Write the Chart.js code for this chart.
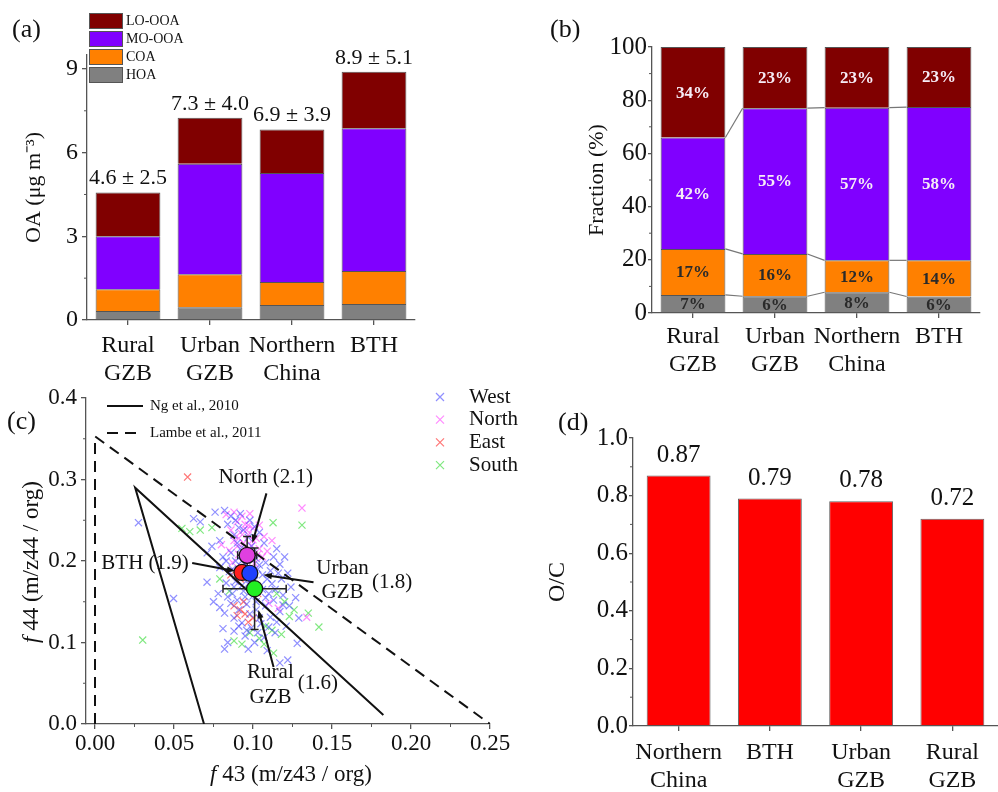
<!DOCTYPE html>
<html>
<head>
<meta charset="utf-8">
<script src="https://cdn.jsdelivr.net/npm/chart.js@4.4.1/dist/chart.umd.min.js"></script>
<style>
  html, body { margin: 0; padding: 0; background: #fff; }
  #wrap { position: relative; width: 998px; height: 792px; overflow: hidden; }
  canvas { position: absolute; }
</style>
</head>
<body>
<div id="wrap">
  <canvas id="ca" width="500" height="395" style="left:0;top:0"></canvas>
  <canvas id="cb" width="498" height="395" style="left:500px;top:0"></canvas>
  <canvas id="cc" width="520" height="412" style="left:0;top:380px"></canvas>
  <canvas id="cd" width="478" height="392" style="left:520px;top:400px"></canvas>
</div>
<script>
const SERIF = "'Liberation Serif','Times New Roman',serif";
const INK = '#111';
const AXIS = '#555';

// ---- (a) OA concentration
const sitesA = [['Rural', 'GZB'], ['Urban', 'GZB'], ['Northern', 'China'], ['BTH']];
const hoaConc = [0.32, 0.46, 0.54, 0.57];
const coaConc = [0.78, 1.18, 0.82, 1.19];
const mooConc = [1.90, 3.96, 3.91, 5.11];
const looConc = [1.57, 1.65, 1.56, 2.03];
const totalMean = [4.6, 7.3, 6.9, 8.9];
const totalSd = [2.5, 4.0, 3.9, 5.1];
const concTicks = [0, 3, 6, 9];
const concMinor = [1.5, 4.5, 7.5];

// ---- (b) fractions
const hoaFrac = [6.8, 6.3, 7.8, 6.2];
const coaFrac = [17.3, 15.9, 12.0, 13.6];
const mooFrac = [41.9, 54.8, 57.4, 57.6];
const looFrac = [34.0, 23.0, 22.8, 22.6];
const fracTicks = [0, 20, 40, 60, 80, 100];
const fracMinor = [10, 30, 50, 70, 90];

// ---- (c) triangle plot
const westPts = [[0.0275,0.247],[0.0497,0.154],[0.0709,0.174],[0.0624,0.252],[0.0666,0.248],[0.076,0.26],[0.082,0.262],
  [0.086,0.255],[0.089,0.25],[0.084,0.245],[0.091,0.241],[0.094,0.238],[0.088,0.232],[0.097,0.229],[0.101,0.242],
  [0.104,0.235],[0.107,0.222],[0.099,0.218],[0.092,0.215],[0.086,0.21],[0.081,0.205],[0.089,0.2],[0.095,0.196],
  [0.102,0.203],[0.108,0.198],[0.113,0.205],[0.117,0.196],[0.111,0.188],[0.106,0.183],[0.099,0.178],[0.091,0.18],
  [0.085,0.187],[0.079,0.192],[0.083,0.173],[0.088,0.168],[0.094,0.163],[0.1,0.157],[0.106,0.165],[0.112,0.172],
  [0.118,0.178],[0.122,0.185],[0.124,0.168],[0.119,0.158],[0.113,0.152],[0.108,0.145],[0.102,0.14],[0.096,0.147],
  [0.09,0.152],[0.084,0.156],[0.079,0.143],[0.082,0.136],[0.088,0.13],[0.093,0.124],[0.099,0.118],[0.105,0.123],
  [0.111,0.131],[0.117,0.138],[0.123,0.145],[0.127,0.155],[0.129,0.13],[0.121,0.12],[0.114,0.112],[0.107,0.106],
  [0.101,0.1],[0.095,0.108],[0.088,0.114],[0.084,0.1],[0.082,0.092],[0.081,0.117],[0.128,0.099],[0.117,0.075],
  [0.122,0.0785],[0.109,0.09],[0.097,0.092],[0.092,0.258],[0.098,0.25],[0.079,0.225],[0.074,0.218],[0.071,0.21],
  [0.115,0.215],[0.12,0.205],[0.075,0.15],[0.078,0.16],[0.103,0.19],[0.096,0.205],[0.09,0.222],[0.087,0.19],
  [0.11,0.16],[0.104,0.13],[0.098,0.135],[0.091,0.14],[0.093,0.17],[0.097,0.172],[0.101,0.176],[0.105,0.17],
  [0.109,0.178],[0.104,0.195],[0.1,0.21],[0.093,0.2],[0.089,0.175],[0.095,0.156],[0.102,0.15],[0.108,0.155],
  [0.114,0.165],[0.116,0.185],[0.1,0.188],[0.094,0.185],[0.087,0.16],[0.091,0.12],[0.096,0.115],[0.103,0.112],
  [0.11,0.119],[0.115,0.125],[0.119,0.146],[0.086,0.148],[0.083,0.2]];
const northPts = [[0.131,0.265],[0.134,0.131],[0.083,0.257],[0.088,0.26],[0.093,0.255],[0.098,0.258],[0.09,0.248],
  [0.095,0.245],[0.1,0.24],[0.104,0.244],[0.086,0.238],[0.092,0.235],[0.097,0.232],[0.102,0.228],[0.107,0.23],
  [0.088,0.225],[0.094,0.222],[0.099,0.219],[0.104,0.215],[0.109,0.212],[0.085,0.213],[0.091,0.208],[0.096,0.2],
  [0.101,0.197],[0.093,0.192],[0.087,0.198],[0.098,0.188],[0.106,0.205],[0.08,0.22],[0.112,0.225],[0.11,0.148],
  [0.116,0.142],[0.096,0.238],[0.091,0.228],[0.1,0.226],[0.095,0.214],[0.09,0.218],[0.103,0.208],[0.097,0.244]];
const eastPts = [[0.0586,0.303],[0.092,0.14],[0.095,0.135],[0.088,0.145],[0.1,0.13],[0.094,0.15],[0.097,0.125],
  [0.09,0.133],[0.103,0.16],[0.092,0.178],[0.086,0.183]];
const southPts = [[0.0302,0.103],[0.131,0.244],[0.1127,0.247],[0.1417,0.119],[0.135,0.136],[0.113,0.087],[0.055,0.24],
  [0.0666,0.238],[0.074,0.241],[0.06,0.236],[0.108,0.12],[0.112,0.115],[0.104,0.105],[0.098,0.112],[0.118,0.11],
  [0.123,0.132],[0.126,0.14],[0.088,0.102],[0.093,0.098],[0.115,0.16],[0.12,0.15],[0.079,0.178],[0.085,0.163],[0.107,0.098]];
const ngX = [0.069, 0.0254, 0.1825];
const ngY = [0, 0.29, 0.011];
const lambeX = [0, 0, 0.25];
const lambeY = [0, 0.353, 0];
const meanNames = ['North', 'BTH', 'Urban GZB', 'Rural GZB'];
const meanX = [0.0963, 0.093, 0.098, 0.101];
const meanY = [0.207, 0.186, 0.185, 0.166];
const meanErrX = [0.006, 0, 0, 0.02];
const meanErrY = [0.023, 0, 0, 0.05];
const f43Ticks = [0, 0.05, 0.10, 0.15, 0.20, 0.25];
const f44Ticks = [0, 0.1, 0.2, 0.3, 0.4];

// ---- (d) O/C
const sitesD = [['Northern', 'China'], ['BTH'], ['Urban', 'GZB'], ['Rural', 'GZB']];
const ocValues = [0.87, 0.79, 0.78, 0.72];
const ocTicks = [0, 0.2, 0.4, 0.6, 0.8, 1.0];
const ocMinor = [0.1, 0.3, 0.5, 0.7, 0.9];

Chart.defaults.font.family = SERIF;
Chart.defaults.color = INK;

function font(size, weight) { return { family: SERIF, size: size, weight: weight || 'normal' }; }

function yAxis(o) {
  return {
    min: o.min, max: o.max, stacked: !!o.stacked,
    afterFit: s => { s.width = o.width; },
    afterBuildTicks: s => { s.ticks = o.ticks.map(v => ({ value: v })); },
    border: { display: true, color: AXIS, width: 1.3 },
    grid: { display: true, drawOnChartArea: false, drawTicks: true, tickLength: o.tl || 5, color: AXIS, lineWidth: 1.3 },
    ticks: { font: font(o.fs || 24), color: INK, padding: o.pad == null ? 4 : o.pad, callback: o.fmt || (v => v) },
    title: o.title ? { display: true, text: o.title, font: font(o.tfs || 22), color: INK, padding: { top: o.titlePad, bottom: 0 } } : { display: false }
  };
}

function catAxis(o) {
  return {
    stacked: !!o.stacked,
    afterFit: s => { s.height = o.height; },
    border: { display: true, color: AXIS, width: 1.3 },
    grid: { display: true, offset: false, drawOnChartArea: false, drawTicks: true, tickLength: 5, color: AXIS, lineWidth: 1.3 },
    ticks: { font: { family: SERIF, size: 24, lineHeight: 1.17 }, color: INK, padding: o.pad, maxRotation: 0, autoSkip: false }
  };
}

function minorTicks(xVals, yVals) {
  return {
    id: 'minorTicks',
    afterDraw(chart) {
      const { ctx, chartArea: a, scales: { x, y } } = chart;
      ctx.save();
      ctx.strokeStyle = AXIS; ctx.lineWidth = 1;
      (yVals || []).forEach(v => {
        const p = y.getPixelForValue(v);
        ctx.beginPath(); ctx.moveTo(a.left - 3, p); ctx.lineTo(a.left, p); ctx.stroke();
      });
      (xVals || []).forEach(v => {
        const p = x.getPixelForValue(v);
        ctx.beginPath(); ctx.moveTo(p, a.bottom); ctx.lineTo(p, a.bottom + 3); ctx.stroke();
      });
      ctx.restore();
    }
  };
}

function panelTag(text, x, y) {
  return {
    id: 'panelTag',
    afterDraw(chart) {
      const ctx = chart.ctx;
      ctx.save();
      ctx.font = '26px ' + SERIF; ctx.fillStyle = INK;
      ctx.textAlign = 'left'; ctx.textBaseline = 'middle';
      ctx.fillText(text, x, y);
      ctx.restore();
    }
  };
}

const compColors = ['#808080', '#ff8000', '#8000ff', '#800000'];
const compNames = ['HOA', 'COA', 'MO-OOA', 'LO-OOA'];

// ================= (a)
new Chart(document.getElementById('ca'), {
  type: 'bar',
  data: {
    labels: sitesA,
    datasets: [hoaConc, coaConc, mooConc, looConc].map((d, i) => ({
      label: compNames[i], data: d, backgroundColor: compColors[i],
      borderColor: '#555', borderWidth: 1, barPercentage: 0.79, categoryPercentage: 1
    }))
  },
  options: {
    responsive: false, animation: false, devicePixelRatio: 1,
    layout: { padding: { left: 0, top: 55, right: 85, bottom: 0 } },
    plugins: { legend: { display: false }, tooltip: { enabled: false } },
    scales: {
      x: catAxis({ stacked: true, height: 75, pad: 7 }),
      y: yAxis({ min: 0, max: 9.5, stacked: true, width: 87, ticks: concTicks, title: 'OA (μg m⁻³)', titlePad: 21, pad: 4 })
    }
  },
  plugins: [minorTicks(null, concMinor), panelTag('(a)', 12, 30), {
    id: 'aDecor',
    afterDraw(chart) {
      const ctx = chart.ctx;
      ctx.save();
      // totals above bars
      const top = chart.getDatasetMeta(3);
      ctx.font = '22px ' + SERIF; ctx.fillStyle = INK;
      ctx.textAlign = 'center'; ctx.textBaseline = 'bottom';
      top.data.forEach((el, i) => {
        ctx.fillText(totalMean[i].toFixed(1) + ' ± ' + totalSd[i].toFixed(1), el.x, el.y - 3);
      });
      // legend, top to bottom
      ctx.font = '14px ' + SERIF; ctx.textAlign = 'left'; ctx.textBaseline = 'middle';
      for (let k = 0; k < 4; k++) {
        const di = 3 - k;
        const yy = 13 + k * 18;
        ctx.fillStyle = compColors[di];
        ctx.fillRect(89, yy, 34, 16);
        ctx.strokeStyle = '#555'; ctx.lineWidth = 1;
        ctx.strokeRect(89.5, yy + 0.5, 33, 15);
        ctx.fillStyle = INK;
        ctx.fillText(compNames[di], 126, yy + 8);
      }
      ctx.restore();
    }
  }]
});

// ================= (b)
new Chart(document.getElementById('cb'), {
  type: 'bar',
  data: {
    labels: sitesA,
    datasets: [hoaFrac, coaFrac, mooFrac, looFrac].map((d, i) => ({
      label: compNames[i], data: d, backgroundColor: compColors[i],
      borderColor: '#555', borderWidth: 1, barPercentage: 0.79, categoryPercentage: 1
    }))
  },
  options: {
    responsive: false, animation: false, devicePixelRatio: 1,
    layout: { padding: { left: 0, top: 47, right: 18, bottom: 0 } },
    plugins: { legend: { display: false }, tooltip: { enabled: false } },
    scales: {
      x: catAxis({ stacked: true, height: 82, pad: 5 }),
      y: yAxis({ min: 0, max: 100, stacked: true, width: 152, ticks: fracTicks, title: 'Fraction (%)', titlePad: 84, pad: 1, tl: 4, fs: 25 })
    }
  },
  plugins: [minorTicks(null, fracMinor), panelTag('(b)', 50, 30), {
    id: 'bDecor',
    afterDatasetsDraw(chart) {
      const ctx = chart.ctx;
      ctx.save();
      // connectors between stacked boundaries
      ctx.strokeStyle = '#777'; ctx.lineWidth = 1.2;
      for (let d = 0; d < 3; d++) {
        const els = chart.getDatasetMeta(d).data;
        for (let i = 0; i < els.length - 1; i++) {
          const a = els[i], b = els[i + 1];
          ctx.beginPath();
          ctx.moveTo(a.x + a.width / 2, a.y);
          ctx.lineTo(b.x - b.width / 2, b.y);
          ctx.stroke();
        }
      }
      // percentage labels
      ctx.font = 'bold 17px ' + SERIF; ctx.textAlign = 'center'; ctx.textBaseline = 'middle';
      chart.data.datasets.forEach((ds, d) => {
        chart.getDatasetMeta(d).data.forEach((el, i) => {
          ctx.fillStyle = d >= 2 ? '#f6ecf6' : '#2a2a2a';
          ctx.fillText(Math.round(ds.data[i]) + '%', el.x, (el.y + el.base) / 2 + 1);
        });
      });
      ctx.restore();
    }
  }]
});

// ================= (c)
const toXY = pts => pts.map(p => ({ x: p[0], y: p[1] }));
const cloud = (label, pts, col) => ({
  label, data: toXY(pts), pointStyle: 'crossRot', pointRadius: 5, pointBorderWidth: 1.2,
  borderColor: col, backgroundColor: col, showLine: false
});
const cloudCols = ['rgba(70,70,255,0.6)', 'rgba(255,60,255,0.6)', 'rgba(255,60,60,0.7)', 'rgba(60,220,60,0.65)'];
const cloudNames = ['West', 'North', 'East', 'South'];
const meanCols = ['#e040e0', '#ff2020', '#2040ff', '#22ee22'];

const notes = [
  { lines: [['North (2.1)', 0.108, 0.302]], from: [0.1085, 0.283], to: [0.0996, 0.222] },
  { lines: [['BTH (1.9)', 0.0317, 0.1975]], from: [0.0615, 0.1975], to: [0.0888, 0.1877] },
  { lines: [['Urban', 0.1567, 0.191], ['GZB', 0.1567, 0.161], ['(1.8)', 0.188, 0.174]], from: [0.1383, 0.174], to: [0.1066, 0.183] },
  { lines: [['Rural', 0.111, 0.0626], ['GZB', 0.111, 0.033], ['(1.6)', 0.141, 0.05]], from: [0.113, 0.07], to: [0.1034, 0.14] }
];

function drawMixedTitle(ctx, cx, cy, rot, parts) {
  ctx.save();
  ctx.translate(cx, cy);
  ctx.rotate(rot);
  ctx.textBaseline = 'middle'; ctx.textAlign = 'left'; ctx.fillStyle = INK;
  let w = 0;
  parts.forEach(p => { ctx.font = p[1]; w += ctx.measureText(p[0]).width; });
  let x = -w / 2;
  parts.forEach(p => { ctx.font = p[1]; ctx.fillText(p[0], x, 0); x += ctx.measureText(p[0]).width; });
  ctx.restore();
}

new Chart(document.getElementById('cc'), {
  type: 'scatter',
  data: {
    datasets: [
      {
        label: 'means', data: meanX.map((x, i) => ({ x, y: meanY[i] })),
        pointStyle: 'circle', pointRadius: 8, pointBorderWidth: 1.2,
        backgroundColor: meanCols, borderColor: '#111', showLine: false
      },
      {
        label: 'Ng et al., 2010', data: ngX.map((x, i) => ({ x, y: ngY[i] })),
        showLine: true, borderColor: '#111', borderWidth: 2, pointRadius: 0, fill: false
      },
      {
        label: 'Lambe et al., 2011', data: lambeX.map((x, i) => ({ x, y: lambeY[i] })),
        showLine: true, borderColor: '#111', borderWidth: 2, borderDash: [11, 7], pointRadius: 0, fill: false
      },
      cloud('West', westPts, cloudCols[0]),
      cloud('North', northPts, cloudCols[1]),
      cloud('East', eastPts, cloudCols[2]),
      cloud('South', southPts, cloudCols[3])
    ]
  },
  options: {
    responsive: false, animation: false, devicePixelRatio: 1,
    layout: { padding: { left: 0, top: 18, right: 30, bottom: 0 } },
    plugins: { legend: { display: false }, tooltip: { enabled: false } },
    scales: {
      x: {
        type: 'linear', min: -0.0057, max: 0.25,
        afterFit: s => { s.height = 412 - 344; },
        afterBuildTicks: s => { s.ticks = f43Ticks.map(v => ({ value: v })); },
        border: { display: true, color: AXIS, width: 1.3 },
        grid: { display: true, drawOnChartArea: false, drawTicks: true, tickLength: 5, color: AXIS, lineWidth: 1.3 },
        ticks: { font: font(23), color: INK, padding: 1, maxRotation: 0, callback: v => v.toFixed(2) }
      },
      y: yAxis({ min: 0, max: 0.4, width: 86, ticks: f44Ticks, pad: 4, fs: 23, fmt: v => v.toFixed(1) })
    }
  },
  plugins: [minorTicks([0.025, 0.075, 0.125, 0.175, 0.225], [0.05, 0.15, 0.25, 0.35]), panelTag('(c)', 7, 42), {
    id: 'cDecor',
    beforeDatasetDraw(chart, args) {
      if (args.index !== 0) return;
      const { ctx, scales: { x, y } } = chart;
      ctx.save();
      ctx.strokeStyle = '#222'; ctx.lineWidth = 1.5;
      meanX.forEach((mx, i) => {
        const px = x.getPixelForValue(mx), py = y.getPixelForValue(meanY[i]);
        if (meanErrX[i]) {
          const l = x.getPixelForValue(mx - meanErrX[i]), r = x.getPixelForValue(mx + meanErrX[i]);
          ctx.beginPath(); ctx.moveTo(l, py); ctx.lineTo(r, py);
          ctx.moveTo(l, py - 4); ctx.lineTo(l, py + 4); ctx.moveTo(r, py - 4); ctx.lineTo(r, py + 4); ctx.stroke();
        }
        if (meanErrY[i]) {
          const t = y.getPixelForValue(meanY[i] + meanErrY[i]), b = y.getPixelForValue(meanY[i] - meanErrY[i]);
          ctx.beginPath(); ctx.moveTo(px, t); ctx.lineTo(px, b);
          ctx.moveTo(px - 4, t); ctx.lineTo(px + 4, t); ctx.moveTo(px - 4, b); ctx.lineTo(px + 4, b); ctx.stroke();
        }
      });
      ctx.restore();
    },
    afterDraw(chart) {
      const { ctx, scales: { x, y } } = chart;
      ctx.save();
      // annotations with arrows
      ctx.fillStyle = INK; ctx.strokeStyle = INK; ctx.lineWidth = 2;
      ctx.font = '21px ' + SERIF; ctx.textAlign = 'center'; ctx.textBaseline = 'middle';
      notes.forEach(n => {
        n.lines.forEach(l => ctx.fillText(l[0], x.getPixelForValue(l[1]), y.getPixelForValue(l[2])));
        const x0 = x.getPixelForValue(n.from[0]), y0 = y.getPixelForValue(n.from[1]);
        const x1 = x.getPixelForValue(n.to[0]), y1 = y.getPixelForValue(n.to[1]);
        const ang = Math.atan2(y1 - y0, x1 - x0);
        ctx.beginPath(); ctx.moveTo(x0, y0); ctx.lineTo(x1 - 6 * Math.cos(ang), y1 - 6 * Math.sin(ang)); ctx.stroke();
        ctx.beginPath();
        ctx.moveTo(x1, y1);
        ctx.lineTo(x1 - 9 * Math.cos(ang - 0.35), y1 - 9 * Math.sin(ang - 0.35));
        ctx.lineTo(x1 - 9 * Math.cos(ang + 0.35), y1 - 9 * Math.sin(ang + 0.35));
        ctx.closePath(); ctx.fill();
      });
      // line legend (top left)
      ctx.font = '15px ' + SERIF; ctx.textAlign = 'left';
      ctx.beginPath(); ctx.moveTo(107, 26); ctx.lineTo(143, 26); ctx.stroke();
      ctx.fillText('Ng et al., 2010', 150, 26);
      ctx.setLineDash([11, 7]);
      ctx.beginPath(); ctx.moveTo(107, 53); ctx.lineTo(143, 53); ctx.stroke();
      ctx.setLineDash([]);
      ctx.fillText('Lambe et al., 2011', 150, 53);
      // region legend (top right)
      ctx.font = '21px ' + SERIF;
      cloudNames.forEach((nm, k) => {
        const yy = 17 + k * 22.7;
        ctx.strokeStyle = cloudCols[k]; ctx.lineWidth = 1.2;
        ctx.beginPath();
        ctx.moveTo(436, yy - 4); ctx.lineTo(444, yy + 4);
        ctx.moveTo(444, yy - 4); ctx.lineTo(436, yy + 4);
        ctx.stroke();
        ctx.fillStyle = INK;
        ctx.fillText(nm, 469, yy);
      });
      // axis titles with italic f
      drawMixedTitle(ctx, 291, 395, 0, [['f', 'italic 23px ' + SERIF], [' 43 (m/z43 / org)', '23px ' + SERIF]]);
      drawMixedTitle(ctx, 32, 182, -Math.PI / 2, [['f', 'italic 23px ' + SERIF], [' 44 (m/z44 / org)', '23px ' + SERIF]]);
      ctx.restore();
    }
  }]
});

// ================= (d)
new Chart(document.getElementById('cd'), {
  type: 'bar',
  data: {
    labels: sitesD,
    datasets: [{
      label: 'O/C', data: ocValues, backgroundColor: '#ff0000',
      borderColor: '#666', borderWidth: 1, barPercentage: 0.70, categoryPercentage: 1
    }]
  },
  options: {
    responsive: false, animation: false, devicePixelRatio: 1,
    layout: { padding: { left: 0, top: 38, right: 0, bottom: 0 } },
    plugins: { legend: { display: false }, tooltip: { enabled: false } },
    scales: {
      x: catAxis({ height: 392 - 326, pad: 8 }),
      y: yAxis({ min: 0, max: 1.0, width: 113, ticks: ocTicks, title: 'O/C', titlePad: 23, tfs: 24, pad: 1, tl: 4, fs: 25, fmt: v => v.toFixed(1) })
    }
  },
  plugins: [minorTicks(null, ocMinor), panelTag('(d)', 38, 23), {
    id: 'dDecor',
    afterDraw(chart) {
      const ctx = chart.ctx;
      ctx.save();
      ctx.font = '25px ' + SERIF; ctx.fillStyle = INK;
      ctx.textAlign = 'center'; ctx.textBaseline = 'bottom';
      chart.getDatasetMeta(0).data.forEach((el, i) => {
        ctx.fillText(ocValues[i].toFixed(2), el.x, el.y - 8);
      });
      ctx.restore();
    }
  }]
});
</script>
</body>
</html>
